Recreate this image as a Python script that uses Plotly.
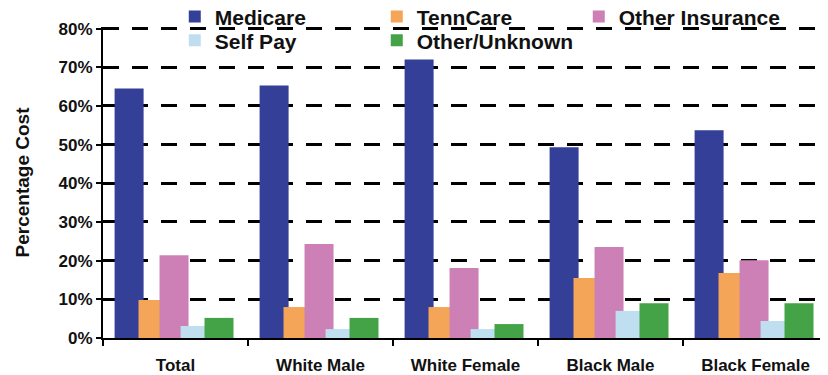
import plotly.graph_objects as go

groups = ["Total", "White Male", "White Female", "Black Male", "Black Female"]

medicare = [64.5, 65.3, 72.0, 49.3, 53.7]
tenncare = [9.8, 8.0, 8.0, 15.5, 16.8]
other_ins = [21.4, 24.3, 18.1, 23.5, 20.1]
self_pay = [3.1, 2.3, 2.3, 7.0, 4.4]
other_unknown = [5.2, 5.2, 3.6, 9.0, 9.0]

# name, values, colour, bar offset (category units), legend row
series = [
    ("Medicare", medicare, "#343f98", -0.42, "legend"),
    ("TennCare", tenncare, "#f4a557", -0.255, "legend"),
    ("Other Insurance", other_ins, "#cc80b6", -0.11, "legend"),
    ("Self Pay", self_pay, "#bfdef0", 0.035, "legend2"),
    ("Other/Unknown", other_unknown, "#45a347", 0.2, "legend2"),
]

fig = go.Figure()
for name, vals, col, off, leg in series:
    fig.add_trace(go.Bar(
        x=groups, y=vals, name=name,
        marker=dict(color=col, line=dict(width=0)),
        width=0.2, offset=off, legend=leg,
    ))

leg_font = dict(size=21, family="Liberation Sans, Arial", color="#111", weight="bold")
leg_common = dict(
    orientation="h", xanchor="left", yanchor="middle",
    entrywidth=157, entrywidthmode="pixels",
    font=leg_font, bgcolor="rgba(0,0,0,0)", itemwidth=30,
)

# page body has an 8px margin, so the figure is 8px smaller than the window
fig.update_layout(
    width=820, height=367,
    margin=dict(l=95, r=0, t=18.5, b=37, autoexpand=False),
    plot_bgcolor="white", paper_bgcolor="white",
    barmode="overlay",
    font=dict(family="Liberation Sans, Arial, sans-serif", color="#111"),
    legend=dict(x=0.099, y=1.033, **leg_common),
    legend2=dict(x=0.099, y=0.956, **leg_common),
    xaxis=dict(
        type="category",
        range=[-0.5, 4.5],
        automargin=False,
        showline=True, linecolor="black", linewidth=2,
        ticks="outside", tickson="boundaries", ticklen=6, tickwidth=2, tickcolor="black",
        tickfont=dict(size=17, weight="bold", color="#111"),
        ticklabelstandoff=11,
        showgrid=False,
    ),
    yaxis=dict(
        range=[0, 80.4], tick0=0, dtick=10, ticksuffix="%",
        automargin=False,
        showline=True, linecolor="black", linewidth=2,
        ticks="outside", ticklen=5, tickwidth=2, tickcolor="black",
        tickfont=dict(size=17, weight="bold", color="#111"),
        showgrid=True, gridcolor="black", gridwidth=3, griddash="16px,13px",
        zeroline=False,
        title=dict(text="Percentage Cost", standoff=24,
                   font=dict(size=19, weight="bold", color="#111")),
    ),
)

fig.write_html("out.html")
